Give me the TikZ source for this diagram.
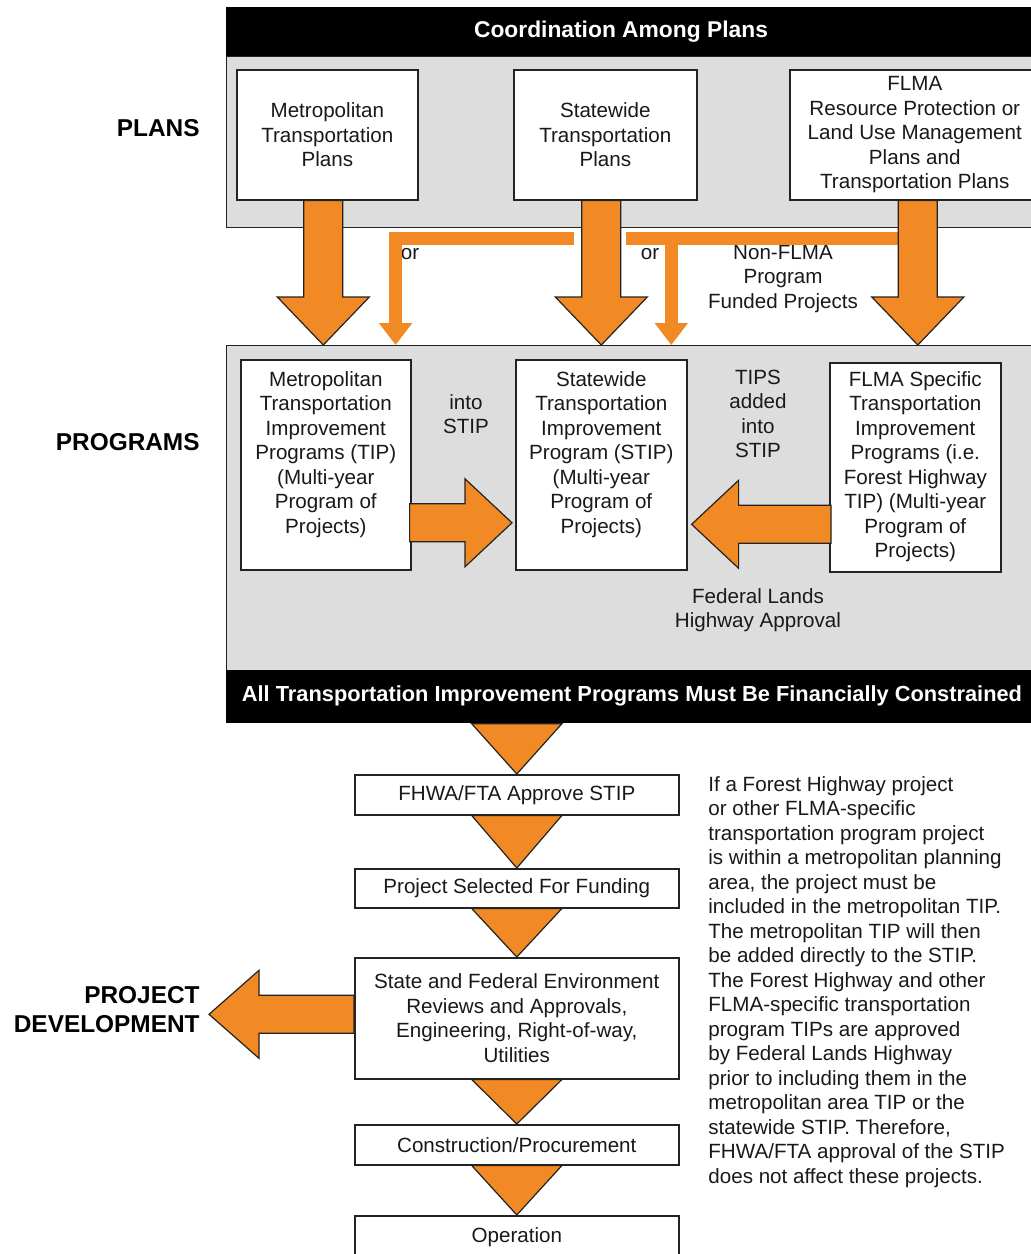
\documentclass[tikz,border=0pt]{standalone}
\usepackage{fontspec}
\setmainfont{Liberation Sans}
\usetikzlibrary{calc,arrows.meta}
\definecolor{fhorange}{RGB}{241,137,37}
\definecolor{panelgray}{RGB}{221,221,221}
\definecolor{edgegray}{RGB}{35,35,35}
\newcommand{\bodysize}{\fontsize{10.3}{12.25}\selectfont}
% fat arrow down, shaft from #1, tip at the height of #2
\newcommand{\fatdown}[2]{%
  \filldraw[fat] let \p1=(#1), \p2=(#2) in
    ({\x1-9.75pt},\y1) -- ({\x1-9.75pt},{\y2+24pt}) -- ({\x1-23pt},{\y2+24pt}) -- (\x1,\y2)
    -- ({\x1+23pt},{\y2+24pt}) -- ({\x1+9.75pt},{\y2+24pt}) -- ({\x1+9.75pt},\y1) -- cycle;}
% fat arrow sideways, #3 = signed head length
\newcommand{\fatside}[3]{%
  \filldraw[fat] let \p1=(#1), \p2=(#2) in
    (\x1,{\y1+9.5pt}) -- ({\x2-(#3)},{\y1+9.5pt}) -- ({\x2-(#3)},{\y1+22pt}) -- (\x2,\y1)
    -- ({\x2-(#3)},{\y1-22pt}) -- ({\x2-(#3)},{\y1-9.5pt}) -- (\x1,{\y1-9.5pt}) -- cycle;}
% plain triangle between two boxes
\newcommand{\fattri}[2]{%
  \filldraw[fat] let \p1=(#1), \p2=(#2) in
    ({\x2-22.5pt},\y1) -- ({\x2+22.5pt},\y1) -- (\x2,\y2) -- cycle;}

\begin{document}
\begin{tikzpicture}[x=0.5pt,y=-0.5pt,
  panel/.style={draw=edgegray,fill=panelgray,line width=0.6pt,anchor=north west,inner sep=0},
  band/.style={fill=black,anchor=north west,inner sep=0},
  plainbox/.style={draw=edgegray,fill=white,line width=0.8pt,anchor=north west,inner sep=0,
    align=center,font=\bodysize,text=black!90},
  txt/.style={inner sep=0,align=center,font=\bodysize,text=black!90},
  sidelabel/.style={inner sep=0,align=right,anchor=east,font=\fontsize{12.2}{14.5}\selectfont\bfseries},
  bandtxt/.style={inner sep=0,text=white,font=\fontsize{10.9}{13}\selectfont\bfseries},
  fat/.style={fill=fhorange,draw=edgegray,line width=0.6pt,line join=miter},
  thinline/.style={draw=fhorange,line width=6.5pt},
  thinarr/.style={thinline,-{Triangle[width=16pt,length=11pt]}}]
  \useasboundingbox (0,0) rectangle (1031,1254);
  \clip (0,0) rectangle (1031,1254);

  % panels and bands
  \node[panel,minimum width=407pt,minimum height=85.5pt] (planpanel) at (226,56) {};
  \node[panel,minimum width=407pt,minimum height=162.5pt] (progpanel) at (226,345) {};
  \node[band,minimum width=407pt,minimum height=24.5pt] (coordband) at (226,7) {};
  \node[band,minimum width=407pt,minimum height=26.5pt] (fcband) at (226,670) {};
  \node[bandtxt,font=\fontsize{11.4}{13}\selectfont\bfseries] (coordtxt) at (621,32) {Coordination Among Plans};
  \node[bandtxt] (fctxt) at (632,696) {All Transportation Improvement Programs Must Be Financially Constrained};

  % plans
  \node[plainbox,minimum width=90.5pt,minimum height=65pt] (mplan) at (236,69) {Metropolitan\\Transportation\\Plans};
  \node[plainbox,minimum width=91.5pt,minimum height=65pt] (splan) at (513,69) {Statewide\\Transportation\\Plans};
  \node[plainbox,minimum width=125pt,minimum height=65pt] (fplan) at (789,69)
    {FLMA\\Resource Protection or\\Land Use Management\\Plans and\\Transportation Plans};

  % programs
  \node[plainbox,minimum width=85pt,minimum height=105pt] (mtip) at (240,359) {};
  \node[plainbox,minimum width=85.5pt,minimum height=105pt] (stip) at (515,359) {};
  \node[plainbox,minimum width=85.5pt,minimum height=104.5pt] (ftip) at (829,362) {};
  \node[txt,anchor=north] (mtiptxt) at ($(mtip.north)+(0,12)$)
    {Metropolitan\\Transportation\\Improvement\\Programs (TIP)\\(Multi-year\\Program of\\Projects)};
  \node[txt,anchor=north] (stiptxt) at ($(stip.north)+(0,12)$)
    {Statewide\\Transportation\\Improvement\\Program (STIP)\\(Multi-year\\Program of\\Projects)};
  \node[txt,anchor=north] (ftiptxt) at ($(ftip.north)+(0,9)$)
    {FLMA Specific\\Transportation\\Improvement\\Programs (i.e.\\Forest Highway\\TIP) (Multi-year\\Program of\\Projects)};

  % side labels
  \node[sidelabel] (plans) at (200,128) {PLANS};
  \node[sidelabel] (programs) at (200,442) {PROGRAMS};
  \node[sidelabel] (pdev) at (200,1010) {PROJECT\\DEVELOPMENT};

  % small notes
  \node[txt] (or1) at (410,254) {or};
  \node[txt] (or2) at (650,254) {or};
  \node[txt] (nonflma) at (783,279) {Non-FLMA\\Program\\Funded Projects};
  \node[txt] (intostip) at (466,414) {into\\STIP};
  \node[txt] (tipsadded) at (758,414) {TIPS\\added\\into\\STIP};
  \node[txt] (flhapp) at (758,610) {Federal Lands\\Highway Approval};

  % project development
  \node[plainbox,minimum width=162pt,minimum height=20pt] (fhwa) at (354,774) {FHWA/FTA Approve STIP};
  \node[plainbox,minimum width=162pt,minimum height=19.5pt] (psel) at (354,868) {Project Selected For Funding};
  \node[plainbox,minimum width=162pt,minimum height=60.5pt] (env) at (354,957)
    {State and Federal Environment\\Reviews and Approvals,\\Engineering, Right-of-way,\\Utilities};
  \node[plainbox,minimum width=162pt,minimum height=20pt] (cons) at (354,1124) {Construction/Procurement};
  \node[plainbox,minimum width=162pt,minimum height=21.5pt] (oper) at (354,1215) {Operation};

  \node[txt,align=left,anchor=north west] (note) at (708,776)
    {If a Forest Highway project\\or other FLMA-specific\\transportation program project\\is within a metropolitan planning\\area, the project must be\\included in the metropolitan TIP.\\The metropolitan TIP will then\\be added directly to the STIP.\\The Forest Highway and other\\FLMA-specific transportation\\program TIPs are approved\\by Federal Lands Highway\\prior to including them in the\\metropolitan area TIP or the\\statewide STIP. Therefore,\\FHWA/FTA approval of the STIP\\does not affect these projects.};

  % thin "or" arrows
  \coordinate (orl) at ($(splan.south)+(-31,38)$);
  \coordinate (orltip) at ($(mtip.north east)+(-16,-14)$);
  \draw[thinarr] (orl) -| (orltip);
  \coordinate (orr) at ($(fplan.south)+(-16,38)$);
  \coordinate (orrbar) at ($(stip.north)+(25,0)$);
  \coordinate (orrtip) at ($(stip.north)+(70,-14)$);
  \draw[thinline] (orr) -- (orrbar |- orr);
  \draw[thinarr] (orrtip |- orr) -- (orrtip);

  % fat arrows
  \foreach \src/\dx in {mplan/-4,splan/-4,fplan/3}
    \fatdown{$(\src.south)+(\dx,0)$}{progpanel.north};
  \fatside{$(mtip.east)+(-2,58)$}{$(stip.west)+(-3,0)$}{23.5pt}
  \fatside{$(ftip.west)+(2,57)$}{$(stip.east)+(4,0)$}{-23.5pt}
  \fatside{$(env.west)+(0,-4)$}{$(pdev.east)+(9,0)$}{-25pt}
  \foreach \a/\b in {fcband/fhwa,fhwa/psel,psel/env,env/cons,cons/oper}
    \fattri{\a.south}{\b.north};
\end{tikzpicture}
\end{document}
